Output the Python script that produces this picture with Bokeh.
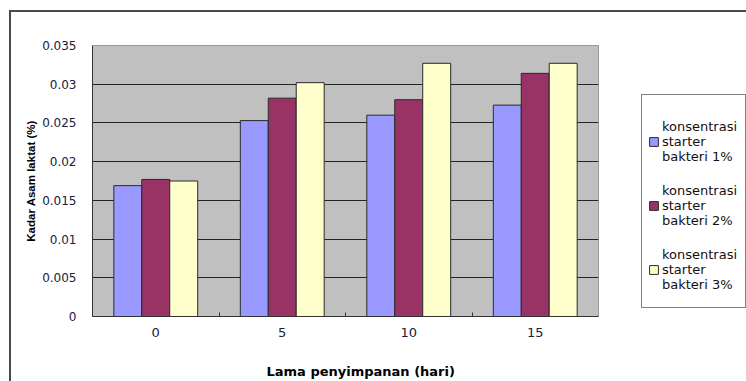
from bokeh.plotting import figure
from bokeh.models import Range1d, LinearAxis, FixedTicker, Legend, LegendItem, Title
from bokeh.embed import file_html
from bokeh.resources import INLINE

days = ["0", "5", "10", "15"]
series_labels = ["konsentrasi\nstarter\nbakteri 1%",
                 "konsentrasi\nstarter\nbakteri 2%",
                 "konsentrasi\nstarter\nbakteri 3%"]
starter_1 = [0.0169, 0.0253, 0.0260, 0.0273]
starter_2 = [0.0177, 0.0282, 0.0280, 0.0314]
starter_3 = [0.0175, 0.0302, 0.0327, 0.0327]
y_ticks = [0, 0.005, 0.01, 0.015, 0.02, 0.025, 0.03, 0.035]
y_tick_labels = ["0", "0.005", "0.01", "0.015", "0.02", "0.025", "0.03", "0.035"]
colors = ["#9999FF", "#993366", "#FFFFCC"]

n = len(days)
centers = [i + 0.5 for i in range(n)]
bounds = [i + 1 for i in range(n - 1)]
bar_w = 0.221

TICK_COLOR = "#20203c"

p = figure(frame_width=506, frame_height=271,
           min_border_left=81, min_border_right=148, min_border_top=33, min_border_bottom=64,
           x_range=Range1d(0, n), y_range=Range1d(0, 0.035),
           x_axis_location=None, y_axis_location="left",
           output_backend="svg", toolbar_location=None)
p.margin = (10, 0, 0, 9)
p.styles = {"border-left": "2px solid #4a4a4a", "border-top": "2px solid #4a4a4a"}

p.background_fill_color = "#C0C0C0"
p.border_fill_color = "white"
p.outline_line_color = "#9a9a9a"
p.outline_line_width = 1

p.xgrid.visible = False
p.ygrid.grid_line_color = "#222222"
p.ygrid.grid_line_width = 1
p.ygrid.ticker = FixedTicker(ticks=y_ticks)

yax = p.yaxis[0]
yax.ticker = FixedTicker(ticks=y_ticks)
yax.major_label_overrides = dict(zip(y_ticks, y_tick_labels))
yax.major_tick_out = 0
yax.major_tick_in = 0
yax.minor_tick_line_color = None
yax.axis_line_color = "#333333"
yax.major_label_standoff = 16
yax.major_label_text_font = "DejaVu Sans"
yax.major_label_text_font_size = "12px"
yax.major_label_text_color = TICK_COLOR
yax.axis_label = "Kadar Asam laktat (%)"
yax.axis_label_text_font = "Liberation Sans"
yax.axis_label_text_font_size = "11.5px"
yax.axis_label_text_font_style = "bold"
yax.axis_label_text_color = "#000000"
yax.axis_label_standoff = 2

tick_axis = LinearAxis(ticker=FixedTicker(ticks=bounds))
tick_axis.major_tick_in = 4
tick_axis.major_tick_out = 0
tick_axis.major_tick_line_color = "#333333"
tick_axis.minor_tick_line_color = None
tick_axis.major_label_text_font_size = "1px"
tick_axis.major_label_text_color = None
tick_axis.major_label_standoff = 0
tick_axis.axis_line_color = "#333333"
p.add_layout(tick_axis, "below")

label_axis = LinearAxis(ticker=FixedTicker(ticks=centers))
label_axis.major_label_overrides = dict(zip(centers, days))
label_axis.major_tick_line_color = None
label_axis.minor_tick_line_color = None
label_axis.axis_line_color = None
label_axis.major_label_standoff = 5
label_axis.major_label_text_font = "DejaVu Sans"
label_axis.major_label_text_font_size = "13px"
label_axis.major_label_text_color = TICK_COLOR
p.add_layout(label_axis, "below")

xtitle = Title(text="Lama penyimpanan (hari)", align="left", offset=174,
               text_font="DejaVu Sans", text_font_size="13px", text_font_style="bold",
               text_color="#000000", standoff=45)
p.add_layout(xtitle, "below")

renderers = []
for k, (vals, col) in enumerate(zip([starter_1, starter_2, starter_3], colors)):
    xs = [c + (k - 1) * bar_w for c in centers]
    r = p.vbar(x=xs, top=vals, width=bar_w, bottom=0, fill_color=col,
               line_color="#2a2a2a", line_width=1)
    renderers.append(r)

legend = Legend(items=[LegendItem(label=lab, renderers=[r]) for lab, r in zip(series_labels, renderers)],
                location=(43, 8))
legend.title = " "
legend.title_text_font_size = "1px"
legend.title_standoff = 7
legend.padding = 6
legend.spacing = 0
legend.margin = 0
legend.label_height = 64
legend.label_width = 77
legend.glyph_width = 11
legend.glyph_height = 11
legend.label_standoff = 3
legend.label_text_font = "DejaVu Sans"
legend.label_text_font_size = "13px"
legend.label_text_line_height = 1.08
legend.label_text_color = "#111111"
legend.border_line_color = "#000000"
legend.border_line_width = 1
legend.background_fill_color = "white"
legend.background_fill_alpha = 1
p.add_layout(legend, "right")

open("out.html", "w").write(file_html(p, INLINE))
